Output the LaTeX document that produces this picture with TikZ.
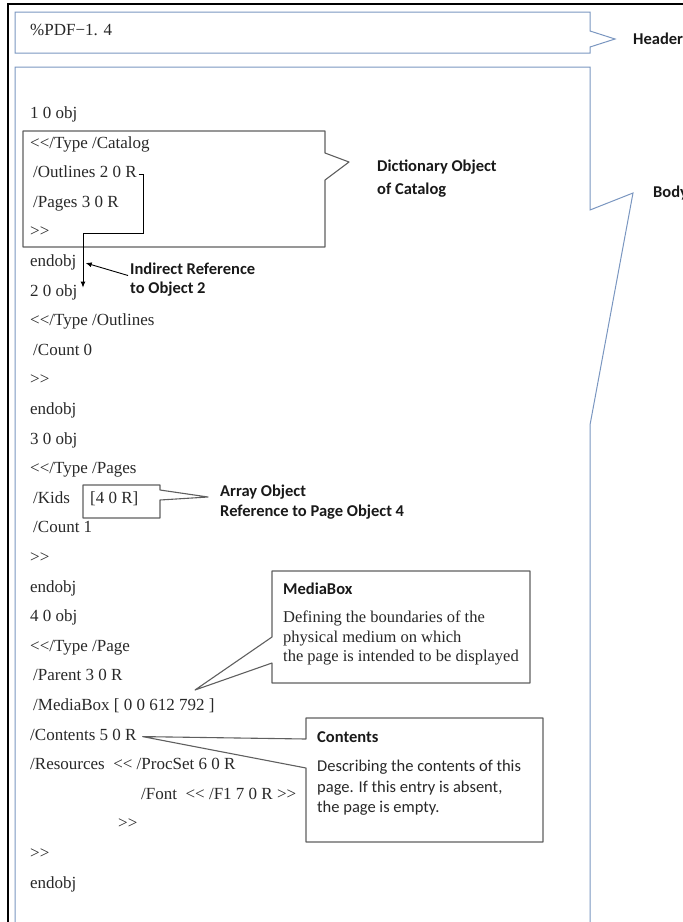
\documentclass[tikz,border=0pt]{standalone}
\usepackage{fontspec}
\setmainfont{Liberation Serif}
\newfontfamily\calfont{Carlito}
\usetikzlibrary{arrows.meta,positioning,calc}
\definecolor{boxblue}{RGB}{122,150,192}
\definecolor{callgray}{RGB}{95,95,95}
\definecolor{codegray}{RGB}{40,40,40}
\newcommand{\codesize}{\fontsize{17}{20}\selectfont}
\newcommand{\lblsize}{\fontsize{16.5}{20}\selectfont}
\newcommand{\dlo}{<{}<}
\newcommand{\dlc}{>{}>}

\begin{document}
\begin{tikzpicture}[x=1pt, y=-1pt,
    codeline/.style={anchor=west, inner sep=2pt, text=codegray, font=\codesize,
                     text height=11pt, text depth=4pt},
    lbl/.style={anchor=west, inner sep=2pt, align=left, text=black!90,
                font=\calfont\lblsize\bfseries},
    notetext/.style={anchor=west, inner sep=2pt, align=left, text=codegray},
    blueframe/.style={draw=boxblue, line width=1pt},
    calloutline/.style={draw=callgray, line width=1.1pt, line join=round},
    refline/.style={-{Latex[length=6pt,width=5pt]}, line width=0.9pt}
]
\useasboundingbox (0,0) rectangle (683,922);

% page edge
\draw[line width=1.5pt] (8,922) -- (8,4) -- (683,4);

% header and body frames
\draw[blueframe] (15,12) -- (590,12) -- (590,31) -- (615,39) -- (590,47)
    -- (590,53) -- (15,53) -- cycle;
\draw[blueframe] (15,930) -- (15,67) -- (590,67) -- (590,210) -- (633,193)
    -- (590,425) -- (590,930);

\node[codeline] (hdr) at (28,32) {\%PDF−1. 4};
\node[lbl] (hdrlbl) at (631,39) {Header};
\node[lbl] (bodylbl) at (651,193) {Body};

% object 1
\node[codeline] (o1)   at (28,115.0) {1 0 obj};
\node[codeline] (t1)   at (28,144.6) {\dlo/Type /Catalog};
\node[codeline] (outl) at (31,174.2) {/Outlines 2 0 R};
\node[codeline] (pg1)  at (31,203.8) {/Pages 3 0 R};
\node[codeline] (g1)   at (28,233.4) {\dlc};
\node[codeline] (e1)   at (28,263.0) {endobj};

% object 2
\node[codeline] (o2)   at (28,292.6) {2 0 obj};
\node[codeline] (t2)   at (28,322.2) {\dlo/Type /Outlines};
\node[codeline] (cnt0) at (31,351.8) {/Count 0};
\node[codeline] (g2)   at (28,381.4) {\dlc};
\node[codeline] (e2)   at (28,411.0) {endobj};

% object 3
\node[codeline] (o3)   at (28,440.6) {3 0 obj};
\node[codeline] (t3)   at (28,470.2) {\dlo/Type /Pages};
\node[codeline] (kids) at (31,499.8) {/Kids};
\node[codeline] (arr)  at (88,499.8) {[4 0 R]};
\node[codeline] (cnt1) at (31,529.4) {/Count 1};
\node[codeline] (g3)   at (28,559.0) {\dlc};
\node[codeline] (e3)   at (28,588.6) {endobj};

% object 4
\node[codeline] (o4)   at (28,618.2) {4 0 obj};
\node[codeline] (t4)   at (28,647.8) {\dlo/Type /Page};
\node[codeline] (par)  at (31,677.4) {/Parent 3 0 R};
\node[codeline] (mb)   at (31,707.0) {/MediaBox [ 0 0 612 792 ]};
\node[codeline] (cnt)  at (28,736.6) {/Contents 5 0 R};
\node[codeline] (res)  at (28,766.2) {/Resources\ \ \dlo{} /ProcSet 6 0 R};
\node[codeline] (fnt)  at (139,795.8) {/Font\ \ \dlo{} /F1 7 0 R \dlc};
\node[codeline] (g4)   at (116,825.4) {\dlc};
\node[codeline] (g5)   at (28,855.0) {\dlc};
\node[codeline] (e4)   at (28,884.6) {endobj};

% callouts
\coordinate (mbtip) at (195,690);
\draw[calloutline] (23,131) -- (325,131) -- (325,153) -- (349,162) -- (325,180)
    -- (325,247) -- (23,247) -- cycle;
\draw[calloutline] (83,485) -- (160,485) -- (160,490) -- (208,497) -- (160,500)
    -- (160,518) -- (83,518) -- cycle;
\draw[calloutline] (272,571) -- (530,571) -- (530,683) -- (272,683) -- (272,663)
    -- (mbtip) -- (272,637) -- cycle;
\draw[calloutline] (306,718) -- (543,718) -- (543,842) -- (306,842) -- (306,768)
    -- ($(cnt.east)+(4,0)$) -- (306,739) -- cycle;

\node[lbl, font=\calfont\fontsize{16.5}{23}\selectfont\bfseries] (dictlbl)
    at (375,178.5) {Dictionary Object\\of Catalog};
\node[lbl, font=\calfont\fontsize{16.5}{19}\selectfont\bfseries] (indref)
    at (128,279.5) {Indirect Reference\\to Object 2};
\node[lbl] (arrlbl) at (218,502) {Array Object\\Reference to Page Object 4};

\node[lbl] (mbtitle) at (281,589) {MediaBox};
\node[notetext, font=\fontsize{16.5}{19.5}\selectfont] (mbdesc) at (281,638)
    {Defining the boundaries of the\\physical medium on which\\the page is intended to be displayed};
\node[lbl] (cnttitle) at (315,737) {Contents};
\node[notetext, font=\calfont\fontsize{16.5}{20.5}\selectfont] (cntdesc) at (315,788)
    {Describing the contents of this\\page. If this entry is absent,\\the page is empty.};

% references
\coordinate (turn) at (83,233.4);
\draw[refline] (outl.east) -- ++(5,0) |- (turn) -- ($(turn |- o2)+(0,-5)$);
\draw[refline] ($(indref.west)+(0,-4)$) -- ($(e1.east)+(7,0)$);
\end{tikzpicture}
\end{document}
